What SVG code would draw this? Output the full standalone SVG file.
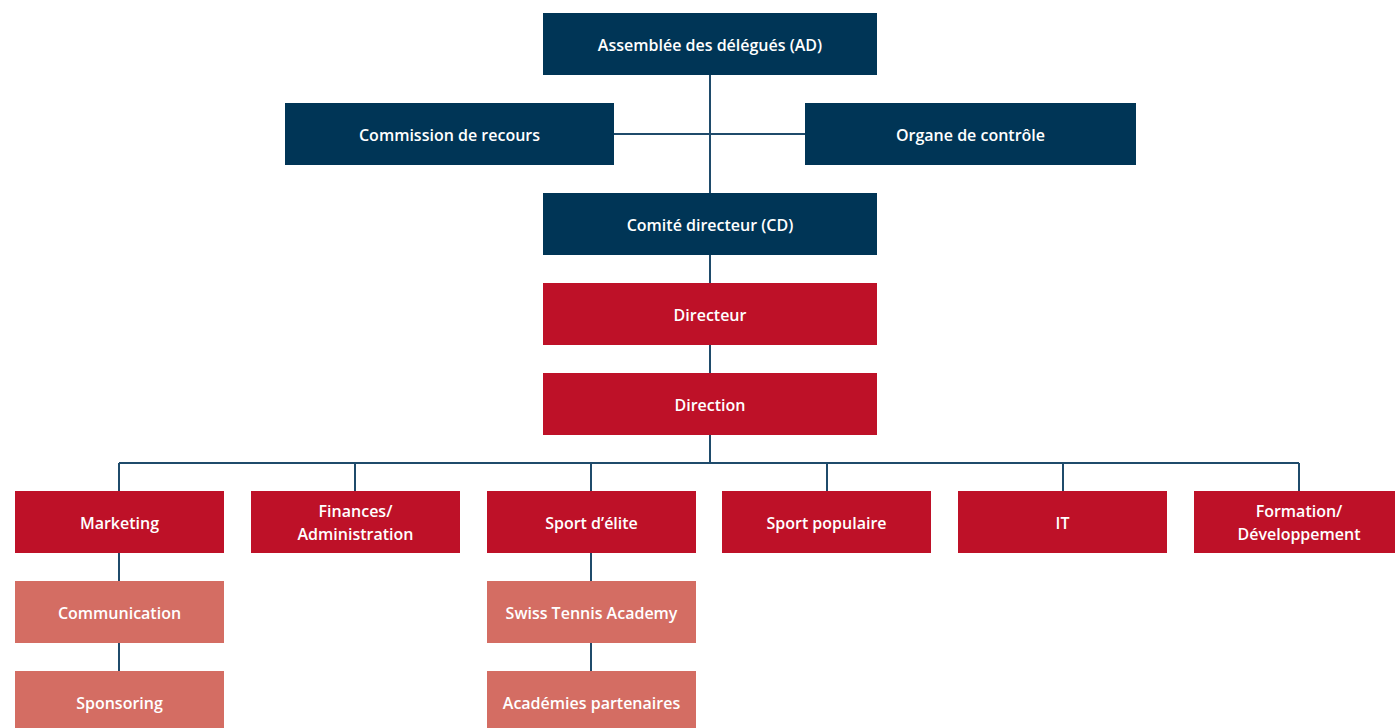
<svg xmlns="http://www.w3.org/2000/svg" width="1395" height="728" viewBox="0 0 1395 728">
<style>
.n rect{stroke:none}
.navy rect{fill:#003556}
.red rect{fill:#BE1128}
.sal rect{fill:#D46D63}
text{font-family:"Open Sans",Lato,"Liberation Sans",sans-serif;font-weight:600;font-size:16px;fill:#ffffff;text-anchor:middle;dominant-baseline:central}
.c{stroke:#1F4B6B;stroke-width:2;fill:none}
</style>
<rect width="1395" height="728" fill="#ffffff"/>
<g id="connectors" class="c">
<path d="M710 75V373"/>
<path d="M614 134H805"/>
<path d="M710 435V463"/>
<path d="M119 463H1299"/>
<path d="M119 463V491M355 463V491M591 463V491M827 463V491M1063 463V491M1299 463V491"/>
<path d="M119 553V671"/>
<path d="M591 553V671"/>
</g>
<g id="ad" class="n navy"><rect x="543" y="13" width="334" height="62"/><text x="710" y="44.5">Assemblée des délégués (AD)</text></g>
<g id="commission" class="n navy"><rect x="285" y="103" width="329" height="62"/><text x="449.5" y="134.5">Commission de recours</text></g>
<g id="organe" class="n navy"><rect x="805" y="103" width="331" height="62"/><text x="970.5" y="134.5">Organe de contrôle</text></g>
<g id="cd" class="n navy"><rect x="543" y="193" width="334" height="62"/><text x="710" y="224.5">Comité directeur (CD)</text></g>
<g id="directeur" class="n red"><rect x="543" y="283" width="334" height="62"/><text x="710" y="314.5">Directeur</text></g>
<g id="direction" class="n red"><rect x="543" y="373" width="334" height="62"/><text x="710" y="404.5">Direction</text></g>
<g id="marketing" class="n red"><rect x="15" y="491" width="209" height="62"/><text x="119.5" y="522.5">Marketing</text></g>
<g id="finances" class="n red"><rect x="251" y="491" width="209" height="62"/><text x="355.5" y="511">Finances/</text><text x="355.5" y="533.5">Administration</text></g>
<g id="sportelite" class="n red"><rect x="487" y="491" width="209" height="62"/><text x="591.5" y="522.5">Sport d’élite</text></g>
<g id="sportpop" class="n red"><rect x="722" y="491" width="209" height="62"/><text x="826.5" y="522.5">Sport populaire</text></g>
<g id="it" class="n red"><rect x="958" y="491" width="209" height="62"/><text x="1062.5" y="522.5">IT</text></g>
<g id="formation" class="n red"><rect x="1194" y="491" width="209" height="62"/><text x="1299" y="511">Formation/</text><text x="1299" y="533.5">Développement</text></g>
<g id="communication" class="n sal"><rect x="15" y="581" width="209" height="62"/><text x="119.5" y="612.5">Communication</text></g>
<g id="sponsoring" class="n sal"><rect x="15" y="671" width="209" height="62"/><text x="119.5" y="702.5">Sponsoring</text></g>
<g id="sta" class="n sal"><rect x="487" y="581" width="209" height="62"/><text x="591.5" y="612.5">Swiss Tennis Academy</text></g>
<g id="academies" class="n sal"><rect x="487" y="671" width="209" height="62"/><text x="591.5" y="702.5">Académies partenaires</text></g>
</svg>
